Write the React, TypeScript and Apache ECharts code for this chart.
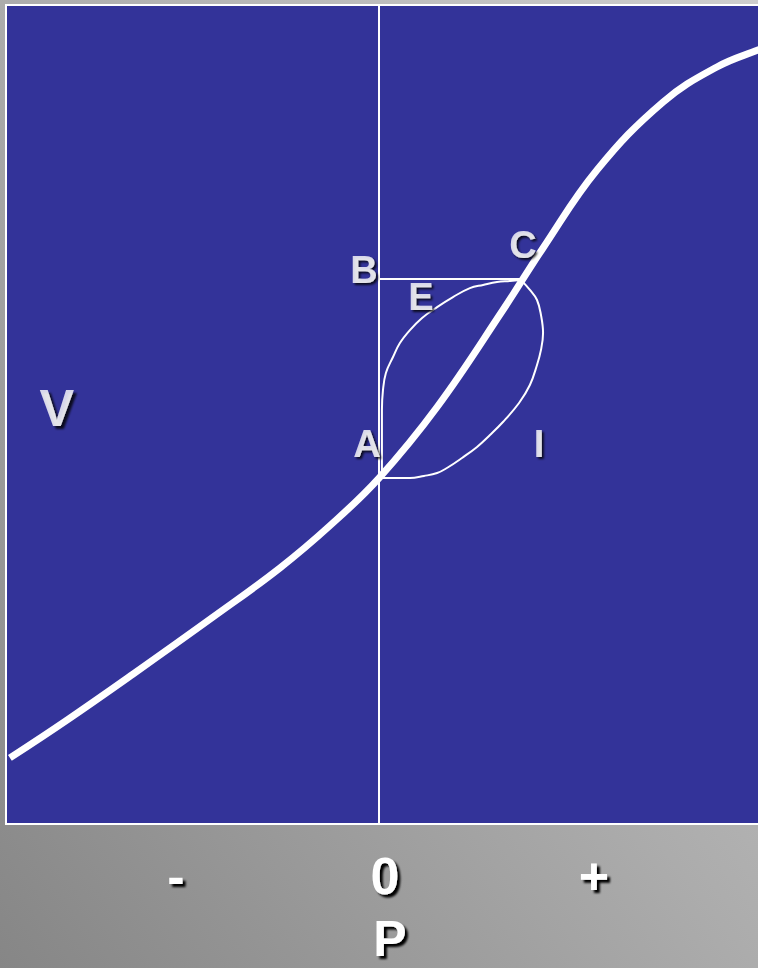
import React, { useEffect, useRef } from "react";
import * as echarts from "echarts";

// Main S-shaped curve V(P), data units
const curveP = [-1.766, -1.493, -1.177, -0.794, -0.474, -0.234, 0, 0.278, 0.593, 0.785, 1.043, 1.359, 1.617, 1.813, 1.895];
const curveV = [-1.344, -1.163, -0.943, -0.67, -0.435, -0.232, -0.005, 0.335, 0.799, 1.096, 1.469, 1.794, 1.962, 2.043, 2.072];

// Loop: upper arc A -> E -> C
const arcUpperP = [0.014, 0.014, 0.014, 0.019, 0.033, 0.067, 0.1, 0.148, 0.206, 0.278, 0.354, 0.435, 0.498, 0.565, 0.627, 0.679];
const arcUpperV = [0, 0.177, 0.321, 0.416, 0.498, 0.574, 0.641, 0.703, 0.761, 0.813, 0.861, 0.904, 0.919, 0.933, 0.938, 0.943];

// Loop: lower arc C -> I -> A
const arcLowerP = [0.679, 0.722, 0.756, 0.775, 0.785, 0.775, 0.756, 0.722, 0.67, 0.593, 0.531, 0.469, 0.397, 0.325, 0.278, 0.215, 0.148, 0.077, 0.014];
const arcLowerV = [0.943, 0.895, 0.847, 0.775, 0.689, 0.608, 0.536, 0.44, 0.354, 0.263, 0.201, 0.144, 0.091, 0.043, 0.019, 0.005, -0.005, -0.005, -0.005];

// Horizontal segment B -> C
const segP = [0, 0.684];
const segV = [0.947, 0.947];

// Point labels
const labelNames = ["A", "B", "C", "E", "I"];
const labelP = [-0.057, -0.072, 0.689, 0.201, 0.766];
const labelV = [0.158, 0.99, 1.11, 0.861, 0.158];
const axisNameV = "V";
const axisNameVP = [-1.541, 0.33];

// Axis ticks
const tickValues = [-1, 0, 1];
const tickLabels = ["-", "0", "+"];
const xMin = -1.7847;
const xMax = 1.8517;
const yMin = -1.6603;
const yMax = 2.2584;

const zip = (a: number[], b: number[]) => a.map((v, i) => [v, b[i]]);

const shadow = {
  textShadowColor: "#000000",
  textShadowBlur: 2,
  textShadowOffsetX: 3,
  textShadowOffsetY: 3,
};
const FONT = "Liberation Sans, Arial, sans-serif";

export default function App() {
  const ref = useRef<HTMLDivElement>(null);
  useEffect(() => {
    if (!ref.current) return;
    const chart = echarts.init(ref.current, null, { renderer: "svg" });
    chart.setOption({
      animation: false,
      backgroundColor: {
        type: "linear",
        x: 0,
        y: 1,
        x2: 1,
        y2: 0,
        colorStops: [
          { offset: 0, color: "#868686" },
          { offset: 0.5, color: "#acacac" },
          { offset: 1, color: "#cecece" },
        ],
      },
      grid: {
        left: 6,
        top: 5,
        width: 760,
        height: 819,
        show: true,
        backgroundColor: "#333399",
        borderColor: "#ffffff",
        borderWidth: 2,
        containLabel: false,
        outerBoundsMode: "none",
      },
      xAxis: {
        type: "value",
        min: xMin,
        max: xMax,
        name: "P",
        nameLocation: "middle",
        nameGap: 89,
        nameTextStyle: {
          color: "#ffffff",
          fontSize: 50,
          fontWeight: "bold",
          fontFamily: FONT,
          lineHeight: 52,
          padding: [0, 0, 0, 8],
          ...shadow,
        },
        axisLine: { show: false, onZero: false },
        axisTick: { show: false },
        splitLine: { show: false },
        axisLabel: {
          customValues: tickValues,
          formatter: (v: number) => tickLabels[tickValues.indexOf(Math.round(v))] ?? "",
          color: "#ffffff",
          fontSize: 52,
          fontWeight: "bold",
          fontFamily: FONT,
          lineHeight: 52,
          margin: 26,
          padding: [0, 0, 0, 12],
          ...shadow,
        },
      },
      yAxis: {
        type: "value",
        min: yMin,
        max: yMax,
        axisLine: { show: true, onZero: true, lineStyle: { color: "#ffffff", width: 2 } },
        axisTick: { show: false },
        axisLabel: { show: false },
        splitLine: { show: false },
      },
      series: [
        {
          type: "line",
          data: zip(arcUpperP, arcUpperV),
          smooth: 0.4,
          symbol: "none",
          lineStyle: { color: "#ffffff", width: 2 },
          z: 2,
        },
        {
          type: "line",
          data: zip(arcLowerP, arcLowerV),
          smooth: 0.4,
          symbol: "none",
          lineStyle: { color: "#ffffff", width: 2 },
          z: 2,
        },
        {
          type: "line",
          data: zip(segP, segV),
          symbol: "none",
          lineStyle: { color: "#ffffff", width: 2 },
          z: 2,
        },
        {
          type: "line",
          data: zip(curveP, curveV),
          smooth: 0.4,
          symbol: "none",
          clip: true,
          lineStyle: { color: "#ffffff", width: 7 },
          z: 3,
        },
        {
          type: "scatter",
          symbolSize: 1,
          itemStyle: { color: "rgba(0,0,0,0)" },
          data: labelNames.map((n, i) => ({ name: n, value: [labelP[i], labelV[i]] })),
          label: {
            show: true,
            position: "inside",
            formatter: (p: any) => p.name,
            color: "#ffffff",
            fontSize: 38,
            fontWeight: "bold",
            fontFamily: FONT,
            ...shadow,
            textShadowOffsetX: 2,
            textShadowOffsetY: 2,
          },
          z: 5,
        },
        {
          type: "scatter",
          symbolSize: 1,
          itemStyle: { color: "rgba(0,0,0,0)" },
          data: [{ name: axisNameV, value: axisNameVP }],
          label: {
            show: true,
            position: "inside",
            formatter: (p: any) => p.name,
            color: "#ffffff",
            fontSize: 52,
            fontWeight: "bold",
            fontFamily: FONT,
            ...shadow,
          },
          z: 5,
        },
      ],
    });
    return () => chart.dispose();
  }, []);
  return (
    <div
      ref={ref}
      style={{ position: "fixed", left: 0, top: 0, width: 758, height: 968 }}
    />
  );
}
